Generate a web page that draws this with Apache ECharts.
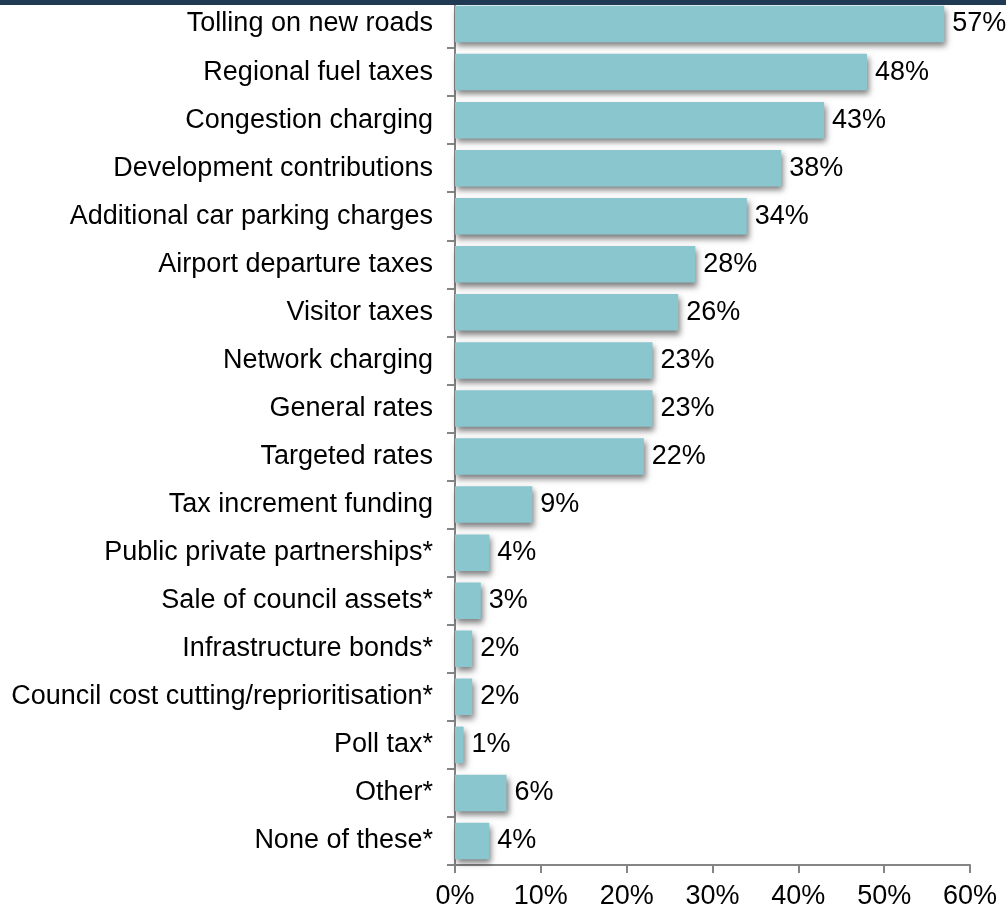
<!DOCTYPE html>
<html>
<head>
<meta charset="utf-8">
<script src="https://cdn.jsdelivr.net/npm/echarts@6/dist/echarts.min.js"></script>
<style>
  html, body { margin: 0; padding: 0; background: #ffffff; }
  #chart { width: 1006px; height: 910px; }
</style>
</head>
<body>
<div id="chart"></div>
<script>
// Funding options, listed top to bottom
const categories = [
  'Tolling on new roads',
  'Regional fuel taxes',
  'Congestion charging',
  'Development contributions',
  'Additional car parking charges',
  'Airport departure taxes',
  'Visitor taxes',
  'Network charging',
  'General rates',
  'Targeted rates',
  'Tax increment funding',
  'Public private partnerships*',
  'Sale of council assets*',
  'Infrastructure bonds*',
  'Council cost cutting/reprioritisation*',
  'Poll tax*',
  'Other*',
  'None of these*'
];

// Share of respondents (%)
const shares = [57, 48, 43, 38, 34, 28, 26, 23, 23, 22, 9, 4, 3, 2, 2, 1, 6, 4];

// Horizontal axis ticks (%)
const xTicks = { min: 0, max: 60, step: 10 };

const FONT = '"Liberation Sans", Arial, sans-serif';
const AXIS_GREY = '#858585';
const FONT_SIZE = 27;

const chart = echarts.init(document.getElementById('chart'), null, { renderer: 'canvas' });

chart.setOption({
  animation: false,
  backgroundColor: '#ffffff',
  textStyle: { fontFamily: FONT },
  grid: { left: 455, right: 36, top: -4, bottom: 45, containLabel: false },
  graphic: [{
    type: 'rect',
    left: 0, top: 0,
    shape: { width: 1006, height: 5 },
    style: { fill: '#1f3a52' },
    z: 100
  }],
  xAxis: {
    type: 'value',
    min: xTicks.min,
    max: xTicks.max,
    interval: xTicks.step,
    splitLine: { show: false },
    axisLine: { show: true, lineStyle: { color: AXIS_GREY, width: 2 } },
    axisTick: { show: true, length: 8, lineStyle: { color: AXIS_GREY, width: 2 } },
    axisLabel: {
      formatter: '{value}%',
      color: '#000000',
      fontSize: FONT_SIZE,
      fontFamily: FONT,
      margin: 18
    }
  },
  yAxis: {
    type: 'category',
    data: categories,
    inverse: true,
    axisLine: { show: true, lineStyle: { color: AXIS_GREY, width: 2 } },
    axisTick: { show: true, length: 8, lineStyle: { color: AXIS_GREY, width: 2 } },
    axisLabel: {
      color: '#000000',
      fontSize: FONT_SIZE,
      fontFamily: FONT,
      margin: 22
    }
  },
  series: [{
    type: 'bar',
    data: shares,
    barCategoryGap: '24%',
    itemStyle: {
      color: '#8ac6ce',
      shadowColor: 'rgba(0,0,0,0.5)',
      shadowBlur: 6,
      shadowOffsetX: 2,
      shadowOffsetY: 4
    },
    label: {
      show: true,
      position: 'right',
      distance: 8,
      formatter: '{c}%',
      color: '#000000',
      fontSize: FONT_SIZE,
      fontFamily: FONT
    }
  }]
});
</script>
</body>
</html>
